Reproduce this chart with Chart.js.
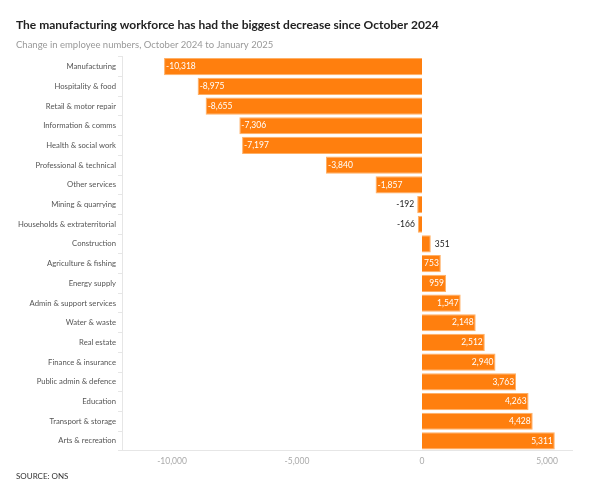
<!DOCTYPE html>
<html>
<head>
<meta charset="utf-8">
<script src="https://cdn.jsdelivr.net/npm/chart.js@4"></script>
<style>
  html, body { margin: 0; padding: 0; background: #fff; }
  #wrap { position: relative; width: 600px; height: 497px; }
</style>
</head>
<body>
<div id="wrap"><canvas id="BarChart"></canvas></div>
<script>
var categories = ['Manufacturing', 'Hospitality & food', 'Retail & motor repair', 'Information & comms',
    'Health & social work', 'Professional & technical', 'Other services', 'Mining & quarrying',
    'Households & extraterritorial', 'Construction', 'Agriculture & fishing', 'Energy supply',
    'Admin & support services', 'Water & waste', 'Real estate', 'Finance & insurance',
    'Public admin & defence', 'Education', 'Transport & storage', 'Arts & recreation'];
var changes = [-10318, -8975, -8655, -7306, -7197, -3840, -1857, -192, -166, 351,
    753, 959, 1547, 2148, 2512, 2940, 3763, 4263, 4428, 5311];
var xTicks = [-10000, -5000, 0, 5000];

var fontName = 'Lato, "Open Sans", sans-serif';

// value labels: white inside the bar end, dark outside for the tiny bars
var valueLabels = {
    id: 'valueLabels',
    afterDatasetsDraw: function(chart) {
        var ctx = chart.ctx;
        var meta = chart.getDatasetMeta(0);
        ctx.save();
        ctx.font = '8.5px ' + fontName;
        ctx.textBaseline = 'middle';
        meta.data.forEach(function(bar, i) {
            var v = changes[i];
            var txt = v.toLocaleString('en-GB');
            var w = Math.abs(bar.x - bar.base);
            var tw = ctx.measureText(txt).width;
            if (w > tw + 3) {
                ctx.fillStyle = '#fff';
                if (v < 0) { ctx.textAlign = 'left'; ctx.fillText(txt, bar.x + 2, bar.y); }
                else { ctx.textAlign = 'right'; ctx.fillText(txt, bar.x - 2, bar.y); }
            } else {
                ctx.fillStyle = '#222';
                if (v < 0) { ctx.textAlign = 'right'; ctx.fillText(txt, bar.x - 3, bar.y); }
                else { ctx.textAlign = 'left'; ctx.fillText(txt, bar.x + 4, bar.y); }
            }
        });
        ctx.restore();
    }
};

var sourceNote = {
    id: 'sourceNote',
    afterDraw: function(chart) {
        var ctx = chart.ctx;
        ctx.save();
        ctx.font = '8px ' + fontName;
        ctx.fillStyle = '#333';
        ctx.textAlign = 'left';
        ctx.textBaseline = 'middle';
        ctx.fillText('SOURCE: ONS', 16, 476);
        ctx.restore();
    }
};

var config = {
    type: 'bar',
    data: {
        labels: categories,
        datasets: [{
            data: changes,
            backgroundColor: '#ff7f0e',
            borderColor: '#ffb066',
            borderWidth: 1,
            barPercentage: 0.95,
            categoryPercentage: 0.92
        }]
    },
    options: {
        indexAxis: 'y',
        responsive: false,
        animation: false,
        layout: { padding: { left: 16, right: 28, top: 0, bottom: 26 } },
        plugins: {
            legend: { display: false },
            tooltip: { enabled: false },
            title: {
                display: true,
                text: 'The manufacturing workforce has had the biggest decrease since October 2024',
                align: 'start',
                color: '#222',
                font: { family: fontName, size: 12, weight: 'bold' },
                padding: { top: 18, bottom: 7 }
            },
            subtitle: {
                display: true,
                text: 'Change in employee numbers, October 2024 to January 2025',
                align: 'start',
                color: '#999',
                font: { family: fontName, size: 9.5 },
                padding: { bottom: 6 }
            }
        },
        scales: {
            x: {
                min: -12000,
                max: 6000,
                afterBuildTicks: function(axis) {
                    axis.ticks = xTicks.map(function(v) { return { value: v }; });
                },
                ticks: {
                    color: '#aaa',
                    font: { family: fontName, size: 8.5 },
                    padding: 5,
                    callback: function(v) { return v.toLocaleString('en-GB'); }
                },
                grid: { display: false, drawTicks: false },
                border: { display: true, color: '#e6e6e6' }
            },
            y: {
                afterFit: function(axis) { axis.width = 106; },
                ticks: {
                    color: '#555',
                    font: { family: fontName, size: 7.7 },
                    padding: 2,
                    autoSkip: false
                },
                grid: { display: true, drawOnChartArea: false, drawTicks: true, tickLength: 4, color: '#e6e6e6' },
                border: { display: true, color: '#e6e6e6' }
            }
        }
    },
    plugins: [valueLabels, sourceNote]
};

var canvas = document.getElementById('BarChart');
canvas.width = 600;
canvas.height = 497;
var barChart = new Chart(canvas, config);
</script>
</body>
</html>
